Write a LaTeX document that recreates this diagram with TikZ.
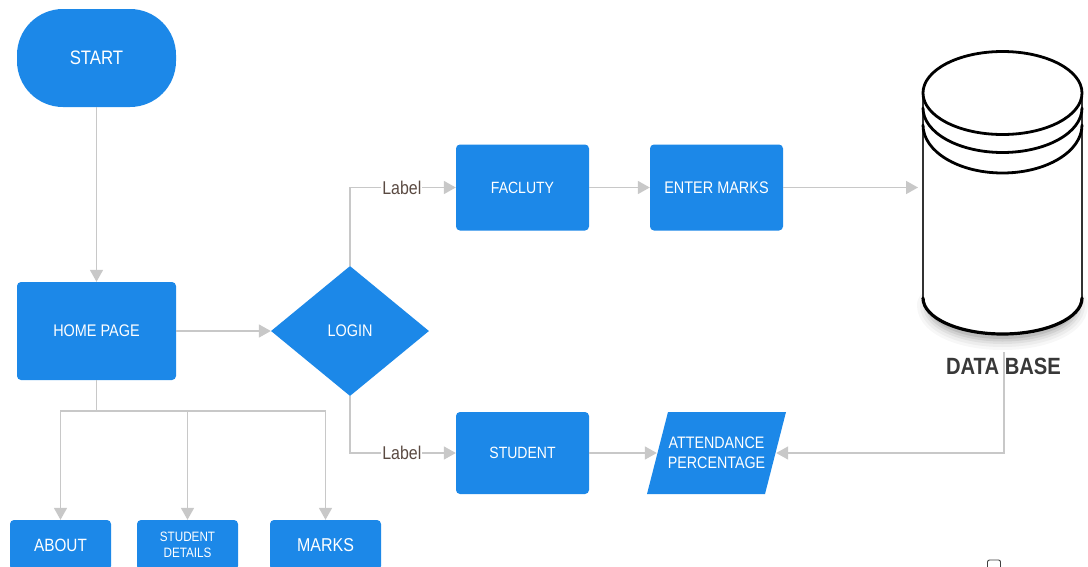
\documentclass[tikz,border=0pt]{standalone}
\usepackage{fontspec}
\setmainfont[FakeStretch=0.86]{Liberation Sans}
\usetikzlibrary{arrows.meta,shapes.geometric}
\definecolor{flowblue}{HTML}{1C88E8}
\definecolor{linegray}{HTML}{C8C8C8}
\definecolor{labeltxt}{HTML}{5A4A42}
\newcommand{\fsz}[1]{\fontsize{#1}{#1}\selectfont}
\tikzset{
  box/.style={fill=flowblue,draw=none,rounded corners=4pt,text=white,align=center,inner sep=0pt,anchor=center},
  conn/.style={draw=linegray,line width=1.6pt,-{Triangle[length=12pt,width=13pt,fill=linegray]}},
  plain/.style={draw=linegray,line width=1.6pt},
  lbl/.style={fill=white,text=labeltxt,inner sep=1pt,font=\fsz{18.5}},
  cyl/.style={draw=black,line width=2.8pt,line cap=round},
}
\begin{document}
\begin{tikzpicture}[x=1pt,y=-1pt]
\useasboundingbox (0,0) rectangle (1088,566);
\clip (0,0) rectangle (1088,566);
\fill[white] (0,0) rectangle (1088,566);
% nodes
\node[box,minimum width=159pt,minimum height=98pt,rounded corners=46pt,font=\fsz{19.5}] (start) at (96.5,58) {START};
\node[box,minimum width=159pt,minimum height=98pt,font=\fsz{16.8}] (home) at (96.5,331) {HOME PAGE};
\node[diamond,fill=flowblue,text=white,minimum width=158pt,minimum height=130pt,inner sep=0pt,aspect=1.2,font=\fsz{16.8}] (login) at (350,331) {LOGIN};
\node[box,minimum width=133pt,minimum height=86pt,font=\fsz{16.3}] (faculty) at (522.5,187.5) {FACLUTY};
\node[box,minimum width=133pt,minimum height=86pt,font=\fsz{16.8}] (enter) at (716.5,187.5) {ENTER MARKS};
\node[box,minimum width=133pt,minimum height=82pt,font=\fsz{16.3}] (student) at (522.5,453) {STUDENT};
\fill[flowblue] (668,412) -- (786,412) -- (765,494) -- (647,494) -- cycle;
\node[inner sep=0pt,minimum width=119pt,minimum height=82pt,text=white,align=center,font=\fontsize{16.6}{20}\selectfont] (attend) at (716.5,453) {ATTENDANCE\\PERCENTAGE};
\node[box,minimum width=101pt,minimum height=50pt,font=\fsz{17.8}] (about) at (60.5,545) {ABOUT};
\node[box,minimum width=101pt,minimum height=50pt,font=\fontsize{13.6}{16}\selectfont] (details) at (187.5,545) {STUDENT\\DETAILS};
\node[box,minimum width=111pt,minimum height=50pt,font=\fsz{18.6}] (marks) at (325.5,545) {MARKS};
% database
\foreach \o/\w in {0.03/30,0.04/24,0.05/18,0.07/13,0.09/8}{
  \draw[black,opacity=\o,line width=\w pt,line cap=round] (932,305) arc[start angle=180,end angle=0,x radius=70.5,y radius=30];
}
\path[fill=white] (923,93) -- (923,298) arc[start angle=180,end angle=0,x radius=79.5,y radius=36] -- (1082,93) -- cycle;
\draw[black!80,line width=1.4pt] (923,93) -- (923,298);
\draw[black!80,line width=1.4pt] (1082,93) -- (1082,298);
\draw[cyl,line width=3.2pt] (923,298) arc[start angle=180,end angle=0,x radius=79.5,y radius=36];
\draw[cyl] (923,125) arc[start angle=180,end angle=0,x radius=79.5,y radius=48];
\draw[cyl] (923,108) arc[start angle=180,end angle=0,x radius=79.5,y radius=44.5];
\draw[cyl,fill=white] (1002.5,93) ellipse [x radius=79.5,y radius=41.5];
\coordinate (dbin) at (918,187.5);
\node[font=\fsz{23.5}\bfseries,text=black!78,inner sep=0pt] (dblabel) at (1003.5,366) {DATA BASE};
\coordinate (dbout) at (1004,352);
\coordinate (homefork) at (96.5,411);
% connectors
\draw[conn] (start) -- (home);
\draw[conn] (home) -- (login);
\draw[plain] (home.south) -- (homefork);
\draw[conn] (homefork) -| (about.north);
\draw[conn] (homefork) -| (details.north);
\draw[conn] (homefork) -| (marks.north);
\draw[conn] (login.north) |- node[lbl,pos=0.745] {Label} (faculty.west);
\draw[conn] (login.south) |- node[lbl,pos=0.745] {Label} (student.west);
\draw[conn] (faculty) -- (enter);
\draw[conn] (enter) -- (dbin);
\draw[conn] (student) -- (attend);
\draw[conn] (dbout) |- (attend.east);
% checkbox
\node[draw=black!75,fill=white,line width=0.9pt,rounded corners=2pt,minimum width=13pt,minimum height=13pt,inner sep=0pt] (check) at (994,566.5) {};
\end{tikzpicture}
\end{document}
